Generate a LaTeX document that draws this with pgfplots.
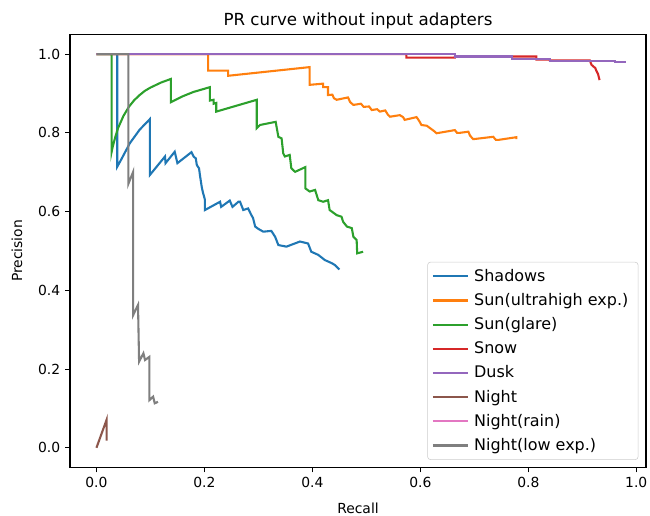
\documentclass[border=0pt]{standalone}
\usepackage{fontspec}
\setmainfont{DejaVu Sans}
\usepackage{pgfplots}
\pgfplotsset{compat=1.18}
\usetikzlibrary{calc}
\definecolor{c0}{HTML}{1F77B4}
\definecolor{c1}{HTML}{FF7F0E}
\definecolor{c2}{HTML}{2CA02C}
\definecolor{c3}{HTML}{D62728}
\definecolor{c4}{HTML}{9467BD}
\definecolor{c5}{HTML}{8C564B}
\definecolor{c6}{HTML}{E377C2}
\definecolor{c7}{HTML}{7F7F7F}
\begin{document}
\begin{tikzpicture}
\begin{axis}[
  scale only axis,
  width=414.7pt, height=311.8pt,
  xmin=-0.049, xmax=1.018, ymin=-0.05, ymax=1.05,
  xtick={0,0.2,0.4,0.6,0.8,1.0},
  ytick={0,0.2,0.4,0.6,0.8,1.0},
  xticklabels={0.0,0.2,0.4,0.6,0.8,1.0},
  yticklabels={0.0,0.2,0.4,0.6,0.8,1.0},
  tick align=outside, major tick length=3.5pt,
  tick style={black, line width=0.8pt},
  xtick pos=bottom, ytick pos=left,
  axis line style={line width=0.8pt},
  tick label style={font=\fontsize{10}{12}\selectfont},
  xlabel={Recall}, ylabel={Precision},
  label style={font=\fontsize{10}{12}\selectfont},
  xlabel style={at={(axis description cs:0.5,-0.094)}, anchor=center},
  ylabel style={at={(axis description cs:-0.092,0.5)}, anchor=center, rotate=0},
  every axis plot/.append style={line width=1.5pt, line join=miter},
  legend cell align=left,
  legend style={at={(1,0)}, anchor=south east, xshift=-5.5pt, yshift=5.5pt,
    draw=black!20, rounded corners=2pt, font=\fontsize{11.5}{13.8}\selectfont,
    row sep=3.2pt, inner xsep=3pt, inner ysep=3pt,
    nodes={inner xsep=4pt}},
  legend image code/.code={\draw[#1, line width=1.5pt] (0cm,0cm) -- (0.88cm,0cm);},
  clip=true,
]
\addplot[c0] coordinates {(0,1) (0.0385,1) (0.0385,0.714) (0.045,0.730) (0.062,0.774) (0.08,0.808) (0.099,0.835) (0.099,0.693) (0.127,0.740) (0.128,0.723) (0.145,0.752) (0.150,0.723) (0.176,0.751) (0.180,0.740) (0.184,0.735) (0.186,0.718) (0.190,0.710) (0.192,0.690) (0.195,0.663) (0.197,0.650) (0.201,0.630) (0.201,0.604) (0.229,0.625) (0.231,0.612) (0.247,0.628) (0.252,0.612) (0.263,0.625) (0.266,0.625) (0.272,0.604) (0.281,0.608) (0.287,0.591) (0.290,0.584) (0.294,0.562) (0.300,0.556) (0.309,0.549) (0.324,0.551) (0.331,0.536) (0.337,0.515) (0.352,0.511) (0.377,0.524) (0.392,0.519) (0.398,0.498) (0.411,0.490) (0.423,0.477) (0.436,0.469) (0.442,0.464) (0.450,0.453)};
\addlegendentry{Shadows}
\addplot[c1] coordinates {(0,1) (0.207,1) (0.207,0.958) (0.244,0.958) (0.244,0.945) (0.395,0.967) (0.395,0.922) (0.420,0.925) (0.420,0.916) (0.429,0.916) (0.429,0.896) (0.437,0.897) (0.440,0.888) (0.445,0.884) (0.466,0.890) (0.470,0.878) (0.476,0.871) (0.490,0.874) (0.495,0.866) (0.505,0.867) (0.510,0.858) (0.520,0.860) (0.525,0.854) (0.535,0.857) (0.540,0.846) (0.544,0.841) (0.562,0.845) (0.568,0.840) (0.571,0.833) (0.593,0.840) (0.598,0.830) (0.602,0.820) (0.612,0.818) (0.618,0.812) (0.625,0.805) (0.630,0.799) (0.664,0.807) (0.668,0.800) (0.673,0.800) (0.689,0.803) (0.692,0.793) (0.698,0.784) (0.735,0.790) (0.740,0.782) (0.744,0.782) (0.778,0.789) (0.778,0.784)};
\addlegendentry{Sun(ultrahigh exp.)}
\addplot[c2] coordinates {(0,1) (0.028,1) (0.028,0.751) (0.030,0.764) (0.035,0.790) (0.04,0.812) (0.05,0.843) (0.06,0.866) (0.07,0.883) (0.08,0.896) (0.09,0.907) (0.10,0.915) (0.12,0.928) (0.138,0.937) (0.138,0.878) (0.16,0.893) (0.18,0.904) (0.21,0.916) (0.21,0.882) (0.217,0.884) (0.217,0.874) (0.222,0.876) (0.222,0.854) (0.297,0.884) (0.297,0.812) (0.303,0.820) (0.332,0.828) (0.337,0.790) (0.343,0.786) (0.346,0.748) (0.349,0.740) (0.358,0.744) (0.361,0.710) (0.368,0.701) (0.387,0.713) (0.387,0.659) (0.395,0.651) (0.405,0.655) (0.411,0.629) (0.420,0.625) (0.429,0.629) (0.432,0.604) (0.445,0.591) (0.454,0.587) (0.457,0.574) (0.464,0.562) (0.473,0.558) (0.476,0.536) (0.482,0.528) (0.483,0.494) (0.494,0.498)};
\addlegendentry{Sun(glare)}
\addplot[c3] coordinates {(0,1) (0.574,1) (0.574,0.991) (0.664,0.991) (0.664,0.993) (0.769,0.994) (0.815,0.994) (0.815,0.986) (0.840,0.986) (0.840,0.984) (0.914,0.984) (0.917,0.973) (0.921,0.968) (0.924,0.965) (0.926,0.958) (0.929,0.950) (0.930,0.945) (0.932,0.934)};
\addlegendentry{Snow}
\addplot[c4] coordinates {(0,1) (0.664,1) (0.664,0.994) (0.769,0.994) (0.769,0.988) (0.840,0.988) (0.840,0.982) (0.960,0.982) (0.960,0.979) (0.981,0.979)};
\addlegendentry{Dusk}
\addplot[c5] coordinates {(0,0) (0.019,0.072) (0.019,0.018)};
\addlegendentry{Night}
\addplot[c6] coordinates {(0,1) (0.02,1)};
\addlegendentry{Night(rain)}
\addplot[c7] coordinates {(0,1) (0.059,1) (0.059,0.670) (0.068,0.701) (0.068,0.337) (0.077,0.363) (0.079,0.219) (0.087,0.240) (0.090,0.223) (0.098,0.231) (0.098,0.121) (0.105,0.130) (0.108,0.113) (0.114,0.117)};
\addlegendentry{Night(low exp.)}
\end{axis}
\node[font=\fontsize{12}{14}\selectfont, anchor=base] at ($(current axis.north)+(0,6.5pt)$) {PR curve without input adapters};
\pgfresetboundingbox
\path ($(current axis.south west)+(-50.4pt,-34.3pt)$) rectangle ($(current axis.north east)+(2.9pt,24.8pt)$);
\end{tikzpicture}
\end{document}
